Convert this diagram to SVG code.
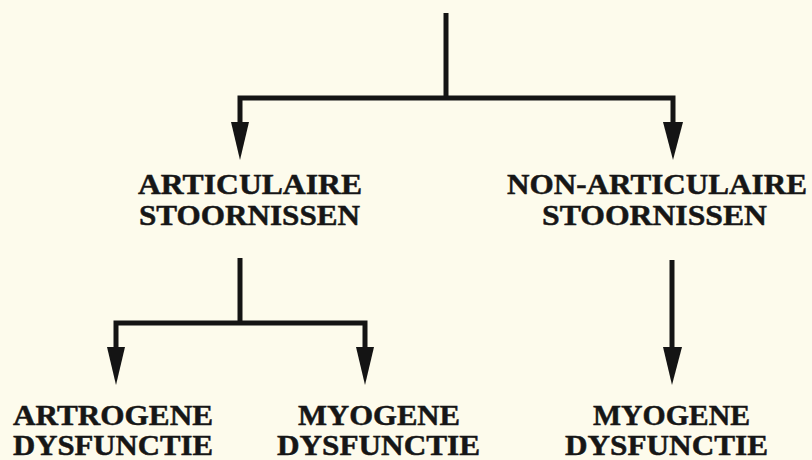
<svg xmlns="http://www.w3.org/2000/svg" width="812" height="460" viewBox="0 0 812 460">
<style>
.ln{stroke:#141414;stroke-width:5;fill:none;stroke-linecap:butt;stroke-linejoin:miter}
.ah{fill:#141414}
text{font-family:"Liberation Serif","Times New Roman",serif;font-weight:bold;font-size:30px;fill:#161616;stroke:#161616;stroke-width:0.5;text-anchor:middle}
</style>
<rect width="812" height="460" fill="#fdfbec"/>
<g id="connectors">
<path class="ln" d="M446,13 V98"/>
<path class="ln" d="M240,122 V98 H673 V122"/>
<polygon class="ah" points="231,122 249,122 240,160"/>
<polygon class="ah" points="663,122 683,122 673,160"/>
<path class="ln" d="M240,258 V323"/>
<path class="ln" d="M116,347 V323 H365 V347"/>
<polygon class="ah" points="107,347 125,347 116,385"/>
<polygon class="ah" points="356,347 374,347 365,385"/>
<path class="ln" d="M672,260 V347"/>
<polygon class="ah" points="663,347 682,347 672,385"/>
</g>
<g id="articulaire">
<text x="250" y="194" textLength="224" lengthAdjust="spacingAndGlyphs">ARTICULAIRE</text>
<text x="249.5" y="225" textLength="221" lengthAdjust="spacingAndGlyphs">STOORNISSEN</text>
</g>
<g id="non-articulaire">
<text x="657" y="194" textLength="300" lengthAdjust="spacingAndGlyphs">NON-ARTICULAIRE</text>
<text x="654.5" y="225" textLength="225" lengthAdjust="spacingAndGlyphs">STOORNISSEN</text>
</g>
<g id="artrogene">
<text x="113" y="425" textLength="200" lengthAdjust="spacingAndGlyphs">ARTROGENE</text>
<text x="113" y="455" textLength="200" lengthAdjust="spacingAndGlyphs">DYSFUNCTIE</text>
</g>
<g id="myogene-left">
<text x="379" y="425" textLength="162" lengthAdjust="spacingAndGlyphs">MYOGENE</text>
<text x="378.5" y="455" textLength="203" lengthAdjust="spacingAndGlyphs">DYSFUNCTIE</text>
</g>
<g id="myogene-right">
<text x="671.5" y="425" textLength="157" lengthAdjust="spacingAndGlyphs">MYOGENE</text>
<text x="666.5" y="455" textLength="203" lengthAdjust="spacingAndGlyphs">DYSFUNCTIE</text>
</g>
</svg>
